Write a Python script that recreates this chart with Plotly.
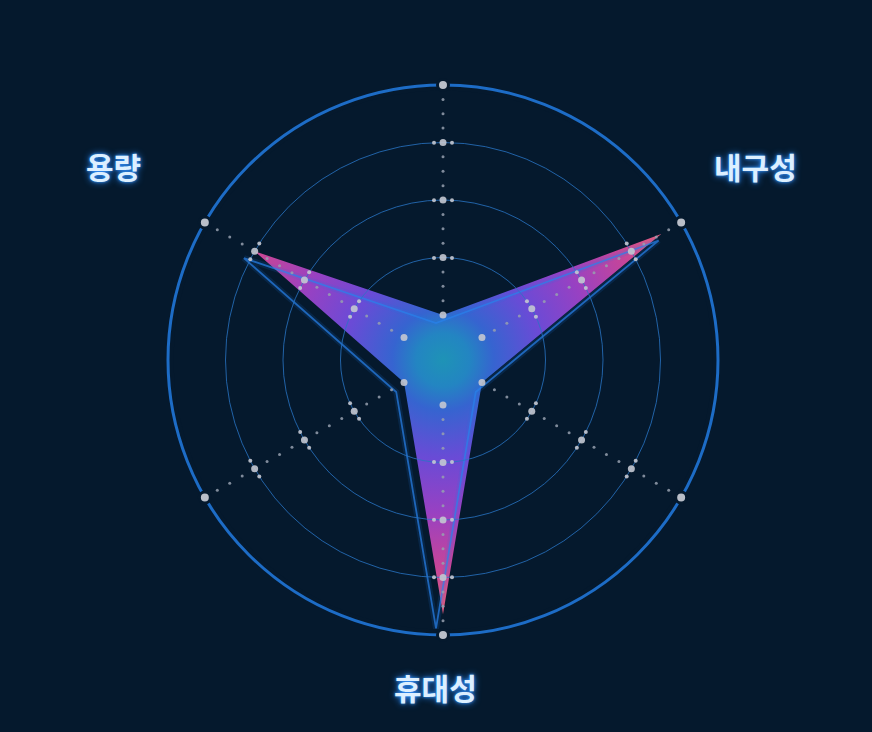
import numpy as np
import plotly.graph_objects as go

# %% data: six spokes, only three carry a label
axis_labels = ["용량", "", "내구성", "", "휴대성", ""]
scores = [75, 0, 90, 0, 91, 0]
ring_values = [0, 25, 50, 75, 100]

# %% geometry / style (pixels of the 872x732 page)
W, H = 872, 732
CX, CY, R = 443, 360, 275
HOLE = 45 / R
START_ANGLE = 150
SHADOW_DX, SHADOW_DY, SHADOW_SCALE = -7, 9, 1.02
BG = "#05192d"
RING_COLOR = "rgba(40,116,196,0.8)"
DOT_COLOR = "rgba(196,200,210,0.9)"
SMALL_DOT = "rgba(150,160,175,0.85)"

n = len(axis_labels)
angles = [START_ANGLE - i * 360 / n for i in range(n)]


def domain(cx, cy, r):
    return [(cx - r) / W, (cx + r) / W], [(H - cy - r) / H, (H - cy + r) / H]


def to_xy(vals, angs):
    rho = HOLE + (1 - HOLE) * np.asarray(vals, float) / 100
    a = np.radians(angs)
    x = list(rho * np.cos(a))
    y = list(rho * np.sin(a))
    return x + x[:1], y + y[:1]


def ring_px(v):
    return R * (HOLE + (1 - HOLE) * v / 100)


fig = go.Figure()

# %% gradient disc, then a background mask leaving only the star visible
t = np.linspace(0, 2 * np.pi, 241)
fig.add_trace(
    go.Scatter(
        x=0.97 * np.cos(t), y=0.97 * np.sin(t),
        mode="lines", fill="toself", line=dict(width=0),
        fillgradient=dict(
            type="radial",
            colorscale=[
                [0.0, "#1e93b6"],
                [0.1, "#2385c2"],
                [0.19, "#3664d0"],
                [0.37, "#6a4bd6"],
                [0.57, "#9841c2"],
                [0.77, "#c5459a"],
                [0.92, "#dc5a82"],
                [1.0, "#e4667a"],
            ],
        ),
        hoverinfo="skip", showlegend=False,
    )
)
sx, sy = to_xy(scores, angles)
mx = list(0.98 * np.cos(t)) + [None] + sx
my = list(0.98 * np.sin(t)) + [None] + sy
fig.add_trace(
    go.Scatter(
        x=mx, y=my, mode="lines", fill="toself", fillcolor=BG,
        line=dict(width=0), hoverinfo="skip", showlegend=False,
    )
)

# %% offset outline of the same series (glow + line)
for width, color in [(6, "rgba(30,120,230,0.14)"), (1.8, "rgba(40,130,235,0.7)")]:
    fig.add_trace(
        go.Scatter(
            x=sx, y=sy, mode="lines", line=dict(color=color, width=width),
            xaxis="x2", yaxis="y2", hoverinfo="skip", showlegend=False,
        )
    )

# %% decorative dots on the spokes
big_r, big_t = [], []
edge_r, edge_t = [], []
flank_r, flank_t = [], []
small_r, small_t = [], []
for a in angles:
    for i, v in enumerate(ring_values):
        if i == len(ring_values) - 1:
            edge_r.append(v)
            edge_t.append(a)
        else:
            big_r.append(v)
            big_t.append(a)
        if 0 < i < len(ring_values) - 1:
            d = np.degrees(9 / ring_px(v))
            flank_r += [v, v]
            flank_t += [a - d, a + d]
        if i > 0:
            step = (v - ring_values[i - 1]) / 4
            for k in range(1, 4):
                small_r.append(ring_values[i - 1] + k * step)
                small_t.append(a)

fig.add_trace(
    go.Scatterpolar(
        r=small_r, theta=small_t, mode="markers",
        marker=dict(size=3, color=SMALL_DOT), hoverinfo="skip", showlegend=False,
    )
)
fig.add_trace(
    go.Scatterpolar(
        r=flank_r, theta=flank_t, mode="markers",
        marker=dict(size=4, color=DOT_COLOR), hoverinfo="skip", showlegend=False,
    )
)
fig.add_trace(
    go.Scatterpolar(
        r=big_r, theta=big_t, mode="markers",
        marker=dict(size=7, color=DOT_COLOR), hoverinfo="skip", showlegend=False,
    )
)
# dots on the outer ring cut a small gap into it
fig.add_trace(
    go.Scatterpolar(
        r=edge_r, theta=edge_t, mode="markers",
        marker=dict(size=11, color="rgb(185,190,200)", line=dict(color=BG, width=3)),
        hoverinfo="skip", showlegend=False,
    )
)

# %% axis labels with a glow
label_pos = {"용량": (113, 166), "내구성": (755, 166), "휴대성": (435, 687)}
for name, (px_, py_) in label_pos.items():
    fig.add_annotation(
        x=px_ / W, y=1 - py_ / H, xref="paper", yref="paper",
        text=name, showarrow=False, xanchor="center", yanchor="middle",
        font=dict(
            family="Noto Sans CJK KR", size=30, color="#dcefff", weight="bold",
            shadow="0px 0px 7px #2b8cff, 0px 0px 3px #3d9bff",
        ),
    )

px_dom, py_dom = domain(CX, CY, R)
sx_dom, sy_dom = domain(CX + SHADOW_DX, CY + SHADOW_DY, R * SHADOW_SCALE)
hidden = dict(visible=False, range=[-1, 1], fixedrange=True)

# outer ring (angular axis line would also draw a circle at the hole)
fig.add_shape(
    type="circle", xref="paper", yref="paper",
    x0=px_dom[0], x1=px_dom[1], y0=py_dom[0], y1=py_dom[1],
    line=dict(color="#1d6cc6", width=3), layer="below",
)

fig.update_layout(
    width=W, height=H,
    margin=dict(l=0, r=0, t=0, b=0),
    paper_bgcolor=BG, plot_bgcolor="rgba(0,0,0,0)",
    xaxis=dict(domain=px_dom, anchor="y", **hidden),
    yaxis=dict(domain=py_dom, anchor="x", **hidden),
    xaxis2=dict(domain=sx_dom, anchor="y2", **hidden),
    yaxis2=dict(domain=sy_dom, anchor="x2", **hidden),
    polar=dict(
        domain=dict(x=px_dom, y=py_dom),
        hole=HOLE,
        bgcolor="rgba(0,0,0,0)",
        radialaxis=dict(
            range=[0, 100], tickvals=ring_values[1:-1], showticklabels=False,
            ticks="", showline=False, gridcolor=RING_COLOR, gridwidth=1,
        ),
        angularaxis=dict(
            rotation=0, direction="counterclockwise", thetaunit="degrees",
            showgrid=False, showticklabels=False, ticks="", showline=False,
        ),
    ),
    showlegend=False,
)

fig.write_html(
    "out.html",
    config={"displayModeBar": False},
    post_script="document.body.style.margin='0';document.body.style.overflow='hidden';",
)
